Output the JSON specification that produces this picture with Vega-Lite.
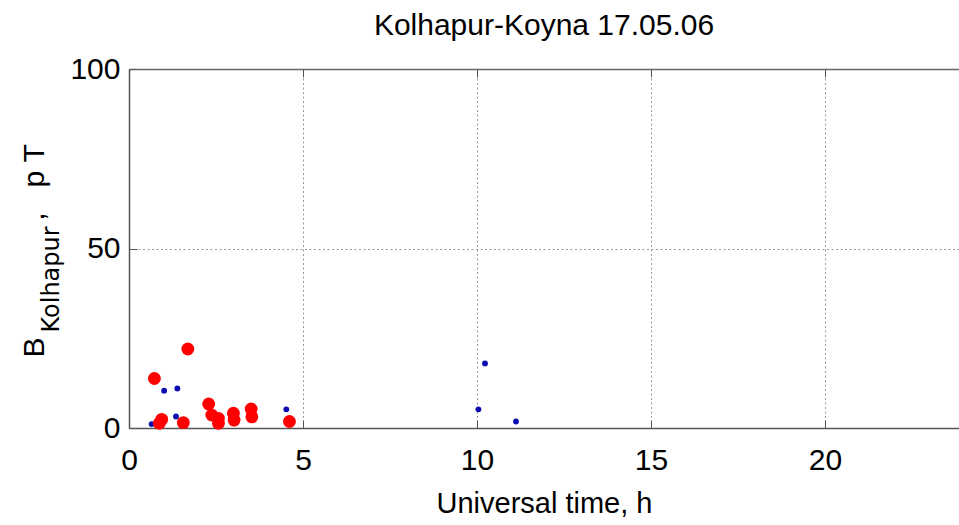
{
  "$schema": "https://vega.github.io/schema/vega-lite/v6.json",
  "width": 830,
  "height": 359,
  "autosize": {"type": "none"},
  "padding": {"left": 129, "top": 69, "right": 0, "bottom": 97},
  "background": "white",
  "config": {
    "view": {"stroke": null},
    "font": "Liberation Sans"
  },
  "title": {
    "text": "Kolhapur-Koyna 17.05.06",
    "font": "Liberation Sans",
    "fontSize": 30,
    "fontWeight": "normal",
    "color": "black",
    "anchor": "middle",
    "frame": "group",
    "baseline": "alphabetic",
    "offset": -11
  },
  "datasets": {
    "kolhapur_big": [
      {"t": 0.73, "b": 13.8},
      {"t": 1.69, "b": 22.0},
      {"t": 0.87, "b": 1.3},
      {"t": 0.94, "b": 2.4},
      {"t": 1.56, "b": 1.5},
      {"t": 2.29, "b": 6.7},
      {"t": 2.38, "b": 3.6},
      {"t": 2.57, "b": 2.7},
      {"t": 2.57, "b": 1.3},
      {"t": 3.0, "b": 4.1},
      {"t": 3.02, "b": 2.2},
      {"t": 3.51, "b": 5.3},
      {"t": 3.53, "b": 3.1},
      {"t": 4.61, "b": 1.8}
    ],
    "kolhapur_small": [
      {"t": 0.65, "b": 1.1},
      {"t": 1.01, "b": 10.4},
      {"t": 1.39, "b": 11.0},
      {"t": 1.35, "b": 3.2},
      {"t": 4.52, "b": 5.2},
      {"t": 10.23, "b": 18.0},
      {"t": 10.04, "b": 5.2},
      {"t": 11.12, "b": 1.8}
    ]
  },
  "layer": [
    {
      "data": {"name": "kolhapur_small"},
      "mark": {"type": "point", "filled": true, "shape": "circle", "size": 34, "color": "#0c0cb0", "opacity": 1},
      "encoding": {
        "x": {
          "field": "t", "type": "quantitative",
          "scale": {"domain": [0, 23.85], "nice": false, "zero": false},
          "axis": {
            "orient": "top", "values": [0, 5, 10, 15, 20],
            "grid": false, "labels": false, "title": null,
            "ticks": true, "tickSize": -8, "tickColor": "#555", "tickWidth": 1,
            "domainColor": "#666", "domainWidth": 1.5
          }
        },
        "y": {
          "field": "b", "type": "quantitative",
          "scale": {"domain": [0, 100], "nice": false},
          "axis": {
            "orient": "left", "labels": false, "ticks": false, "grid": false, "domain": false,
            "title": "Kolhapur",
            "titleFont": "DejaVu Sans", "titleFontSize": 24, "titleFontWeight": "normal", "titleColor": "black",
            "titleAngle": -90, "titleAlign": "left", "titleBaseline": "alphabetic",
            "titleX": -71, "titleY": 263
          }
        }
      }
    },
    {
      "data": {"name": "kolhapur_big"},
      "mark": {"type": "point", "filled": true, "shape": "circle", "size": 165, "color": "#ff0000", "opacity": 1},
      "encoding": {
        "x": {
          "field": "t", "type": "quantitative",
          "scale": {"domain": [0, 23.85], "nice": false, "zero": false},
          "axis": {
            "orient": "bottom", "values": [0, 5, 10, 15, 20],
            "grid": true, "gridColor": "#9a9a9a", "gridDash": [2, 2.5], "gridWidth": 1,
            "domainColor": "#555", "domainWidth": 1.5,
            "ticks": true, "tickSize": -8, "tickColor": "#555", "tickWidth": 1,
            "labelFont": "Liberation Sans", "labelFontSize": 30, "labelColor": "black",
            "labelPadding": 25, "labelFlush": false, "labelOverlap": false,
            "title": "Universal time, h",
            "titleFont": "Liberation Sans", "titleFontSize": 29, "titleFontWeight": "normal", "titleColor": "black",
            "titleX": 415, "titleY": 84, "titleAlign": "center", "titleBaseline": "alphabetic"
          }
        },
        "y": {
          "field": "b", "type": "quantitative",
          "scale": {"domain": [0, 100], "nice": false},
          "axis": {
            "orient": "left", "values": [0, 50, 100],
            "grid": true, "gridColor": "#9a9a9a", "gridDash": [2, 2.5], "gridWidth": 1,
            "domainColor": "#555", "domainWidth": 1.5,
            "ticks": true, "tickSize": -8, "tickColor": "#555", "tickWidth": 1,
            "labelFont": "Liberation Sans", "labelFontSize": 30, "labelColor": "black",
            "labelPadding": 17, "labelFlush": false, "labelOverlap": false, "labelBaseline": "middle",
            "title": "B\u00a0\u00a0\u00a0\u00a0\u00a0\u00a0\u00a0\u00a0\u00a0\u00a0\u00a0\u00a0\u00a0\u00a0,\u00a0\u00a0\u00a0p\u00a0T",
            "titleFont": "Liberation Sans", "titleFontSize": 30, "titleFontWeight": "normal", "titleColor": "black",
            "titleAngle": -90, "titleAlign": "left", "titleBaseline": "alphabetic",
            "titleX": -86, "titleY": 288
          }
        }
      }
    }
  ],
  "resolve": {"axis": {"x": "independent", "y": "independent"}}
}
